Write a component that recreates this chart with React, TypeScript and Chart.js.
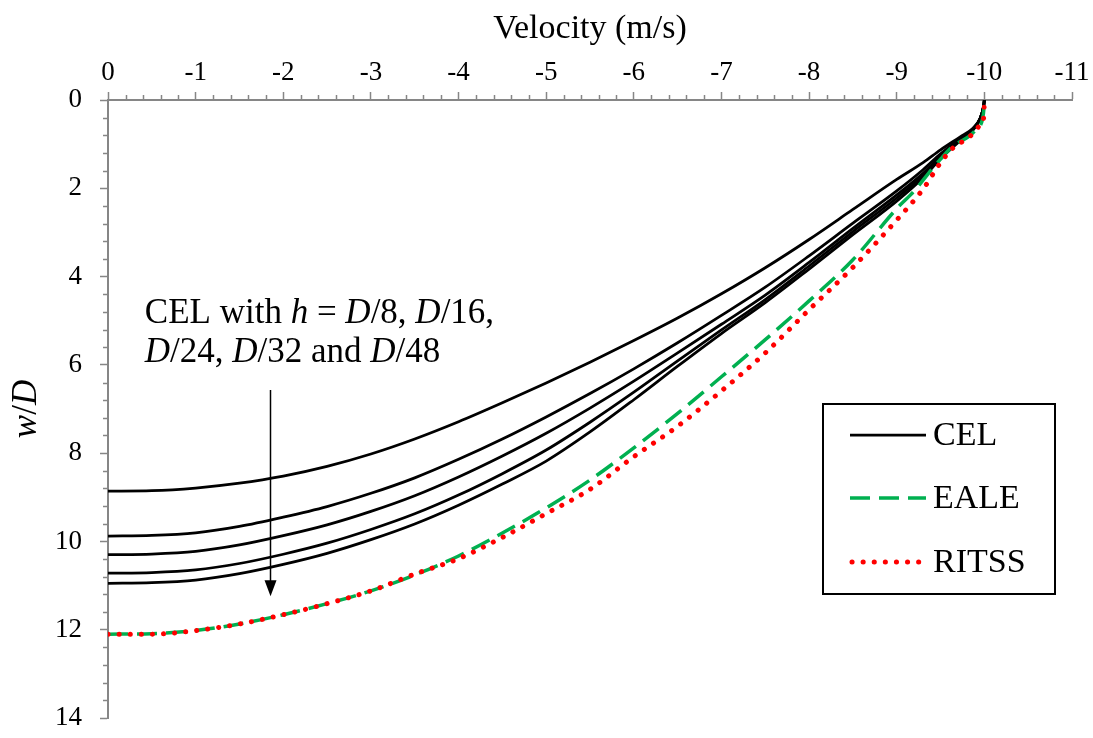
import React, { useEffect, useRef } from 'react';
import { Chart, registerables } from 'chart.js';

Chart.register(...registerables);

// ---------- data (velocity in m/s, depth as w/D) ----------
const CEL_VELOCITY = [0, -0.5, -1, -1.5, -2, -2.5, -3, -3.5, -4, -4.5, -5, -5.5, -6, -6.5, -7, -7.5, -8, -8.5, -9, -9.3, -9.5, -9.72, -9.87, -9.95, -9.99, -10];
const CEL_D8 = [8.86, 8.85, 8.79, 8.68, 8.52, 8.3, 8.02, 7.68, 7.29, 6.86, 6.41, 5.94, 5.45, 4.94, 4.39, 3.8, 3.16, 2.48, 1.8, 1.42, 1.13, 0.84, 0.64, 0.42, 0.16, 0];
const CEL_D16 = [9.88, 9.865, 9.805, 9.66, 9.45, 9.21, 8.91, 8.56, 8.14, 7.68, 7.18, 6.65, 6.09, 5.5, 4.88, 4.24, 3.53, 2.79, 2.06, 1.58, 1.22, 0.88, 0.66, 0.43, 0.16, 0];
const CEL_D24 = [10.3, 10.285, 10.225, 10.08, 9.87, 9.625, 9.32, 8.965, 8.54, 8.065, 7.55, 6.98, 6.37, 5.73, 5.08, 4.42, 3.68, 2.91, 2.15, 1.66, 1.27, 0.9, 0.67, 0.43, 0.16, 0];
const CEL_D32 = [10.72, 10.705, 10.645, 10.5, 10.29, 10.04, 9.73, 9.375, 8.95, 8.465, 7.93, 7.3, 6.62, 5.91, 5.21, 4.52, 3.76, 2.98, 2.22, 1.71, 1.3, 0.91, 0.67, 0.43, 0.16, 0];
const CEL_D48 = [10.95, 10.935, 10.875, 10.73, 10.52, 10.27, 9.96, 9.605, 9.18, 8.7, 8.18, 7.52, 6.79, 6.03, 5.29, 4.59, 3.83, 3.05, 2.29, 1.76, 1.33, 0.93, 0.68, 0.43, 0.16, 0];

const EALE_VELOCITY = [0, -0.5, -1, -1.5, -2, -2.5, -3, -3.5, -4, -4.5, -5, -5.5, -6, -6.5, -7, -7.5, -8, -8.5, -9, -9.2, -9.4, -9.5, -9.6, -9.7, -9.82, -9.9, -9.98, -9.995, -10];
const EALE_DEPTH = [12.1, 12.09, 12.02, 11.87, 11.66, 11.41, 11.12, 10.76, 10.33, 9.81, 9.24, 8.61, 7.88, 7.1, 6.27, 5.43, 4.55, 3.62, 2.46, 2.06, 1.57, 1.34, 1.12, 0.97, 0.83, 0.68, 0.42, 0.19, 0];

const RITSS_VELOCITY = [0, -0.5, -1, -1.5, -2, -2.5, -3, -3.5, -4, -4.5, -5, -5.5, -6, -6.5, -7, -7.5, -8, -8.5, -9, -9.3, -9.5, -9.65, -9.76, -9.86, -9.95, -9.995, -10];
const RITSS_DEPTH = [12.1, 12.1, 12.02, 11.87, 11.66, 11.41, 11.12, 10.74, 10.39, 9.91, 9.37, 8.82, 8.08, 7.39, 6.59, 5.73, 4.75, 3.79, 2.72, 2.02, 1.42, 1.07, 0.93, 0.78, 0.58, 0.36, 0];

const X_MIN = -11;
const X_MAX = 0;
const X_STEP = 1;
const X_MINOR = 0.2;
const Y_MIN = 0;
const Y_MAX = 14;
const Y_STEP = 2;
const Y_MINOR = 0.4;

const X_TITLE = 'Velocity (m/s)';
const LEGEND_LABELS = ['CEL', 'EALE', 'RITSS'];

// annotation (data coordinates)
const ARROW_V = -1.85;
const ARROW_FROM = 6.57;
const ARROW_TO = 11.24;
const NOTE_V = -0.42;
const NOTE_W1 = 5.05;
const NOTE_W2 = 5.94;
const NOTE_LINE1 = [
  { t: 'CEL with ', i: false },
  { t: 'h', i: true },
  { t: ' = ', i: false },
  { t: 'D', i: true },
  { t: '/8, ', i: false },
  { t: 'D', i: true },
  { t: '/16,', i: false },
];
const NOTE_LINE2 = [
  { t: 'D', i: true },
  { t: '/24, ', i: false },
  { t: 'D', i: true },
  { t: '/32 and ', i: false },
  { t: 'D', i: true },
  { t: '/48', i: false },
];
const Y_TITLE = [
  { t: 'w', i: true },
  { t: '/', i: false },
  { t: 'D', i: true },
];

// ---------- styles ----------
const FONT = "'Liberation Serif', 'Times New Roman', serif";
const AXIS_COLOR = '#868686';
const CEL_STYLE = { color: '#000000', width: 2.75, dash: [] as number[], cap: 'butt' as CanvasLineCap };
const EALE_STYLE = { color: '#00B050', width: 3.5, dash: [20, 9], cap: 'butt' as CanvasLineCap };
const RITSS_STYLE = { color: '#FF0000', width: 5, dash: [0.1, 11], cap: 'round' as CanvasLineCap };

function pts(xs: number[], ys: number[]) {
  return xs.map((x, i) => ({ x, y: ys[i] }));
}

function drawRich(ctx: CanvasRenderingContext2D, parts: { t: string; i: boolean }[], x: number, y: number, size: number, align: 'left' | 'center') {
  const fontFor = (it: boolean) => `${it ? 'italic ' : ''}${size}px ${FONT}`;
  let total = 0;
  for (const p of parts) {
    ctx.font = fontFor(p.i);
    total += ctx.measureText(p.t).width;
  }
  let cx = align === 'center' ? x - total / 2 : x;
  ctx.textAlign = 'left';
  for (const p of parts) {
    ctx.font = fontFor(p.i);
    ctx.fillText(p.t, cx, y);
    cx += ctx.measureText(p.t).width;
  }
}

export default function App() {
  const ref = useRef<HTMLCanvasElement>(null);

  useEffect(() => {
    document.body.style.margin = '0';
    const canvas = ref.current;
    if (!canvas) return;

    const overlay = {
      id: 'overlay',
      afterDatasetsDraw(chart: any) {
        const ctx: CanvasRenderingContext2D = chart.ctx;
        const xs = chart.scales.x;
        const ys = chart.scales.y;
        const area = chart.chartArea;
        ctx.save();

        // minor ticks
        ctx.strokeStyle = AXIS_COLOR;
        ctx.lineWidth = 1.5;
        const nx = Math.round((X_MAX - X_MIN) / X_MINOR);
        for (let i = 0; i <= nx; i++) {
          const v = X_MAX - i * X_MINOR;
          if (Math.abs(v / X_STEP - Math.round(v / X_STEP)) < 1e-6) continue;
          const px = Math.round(xs.getPixelForValue(v)) + 0.5;
          ctx.beginPath();
          ctx.moveTo(px, area.top);
          ctx.lineTo(px, area.top - 5);
          ctx.stroke();
        }
        const ny = Math.round((Y_MAX - Y_MIN) / Y_MINOR);
        for (let i = 0; i <= ny; i++) {
          const w = Y_MIN + i * Y_MINOR;
          if (Math.abs(w / Y_STEP - Math.round(w / Y_STEP)) < 1e-6) continue;
          const py = Math.round(ys.getPixelForValue(w)) + 0.5;
          ctx.beginPath();
          ctx.moveTo(area.left, py);
          ctx.lineTo(area.left - 5, py);
          ctx.stroke();
        }

        // y title (mixed italic)
        ctx.fillStyle = '#000';
        ctx.save();
        ctx.translate(27, (area.top + area.bottom) / 2);
        ctx.rotate(-Math.PI / 2);
        ctx.textBaseline = 'middle';
        drawRich(ctx, Y_TITLE, 0, 0, 35, 'center');
        ctx.restore();

        // annotation text
        ctx.fillStyle = '#000';
        ctx.textBaseline = 'alphabetic';
        const nx0 = xs.getPixelForValue(NOTE_V);
        drawRich(ctx, NOTE_LINE1, nx0, ys.getPixelForValue(NOTE_W1), 35, 'left');
        drawRich(ctx, NOTE_LINE2, nx0, ys.getPixelForValue(NOTE_W2), 35, 'left');

        // arrow
        const ax = Math.round(xs.getPixelForValue(ARROW_V)) + 0.5;
        const ay0 = ys.getPixelForValue(ARROW_FROM);
        const ay1 = ys.getPixelForValue(ARROW_TO);
        ctx.strokeStyle = '#000';
        ctx.lineWidth = 1.5;
        ctx.setLineDash([]);
        ctx.beginPath();
        ctx.moveTo(ax, ay0);
        ctx.lineTo(ax, ay1 - 12);
        ctx.stroke();
        ctx.beginPath();
        ctx.moveTo(ax - 6, ay1 - 16);
        ctx.lineTo(ax + 6, ay1 - 16);
        ctx.lineTo(ax, ay1);
        ctx.closePath();
        ctx.fillStyle = '#000';
        ctx.fill();

        // legend
        const bx = 823, by = 404, bw = 232, bh = 190;
        ctx.fillStyle = '#fff';
        ctx.fillRect(bx, by, bw, bh);
        ctx.strokeStyle = '#000';
        ctx.lineWidth = 2;
        ctx.strokeRect(bx, by, bw, bh);
        const styles = [CEL_STYLE, EALE_STYLE, RITSS_STYLE];
        const rows = [435, 498, 562];
        styles.forEach((s, i) => {
          const y = rows[i];
          ctx.save();
          ctx.strokeStyle = s.color;
          ctx.lineWidth = s.width;
          ctx.setLineDash(s.dash);
          ctx.lineCap = s.cap;
          ctx.beginPath();
          if (s.cap === 'round') {
            ctx.moveTo(852, y);
            ctx.lineTo(922, y);
          } else {
            ctx.moveTo(850, y);
            ctx.lineTo(926, y);
          }
          ctx.stroke();
          ctx.restore();
          ctx.fillStyle = '#000';
          ctx.font = `34px ${FONT}`;
          ctx.textAlign = 'left';
          ctx.textBaseline = 'middle';
          ctx.fillText(LEGEND_LABELS[i], 933, y + 1);
        });

        ctx.restore();
      },
    };

    const celSeries = [CEL_D8, CEL_D16, CEL_D24, CEL_D32, CEL_D48];
    const datasets: any[] = celSeries.map((d) => ({
      label: 'CEL',
      data: pts(CEL_VELOCITY, d),
      borderColor: CEL_STYLE.color,
      borderWidth: CEL_STYLE.width,
      pointRadius: 0,
      cubicInterpolationMode: 'monotone',
      fill: false,
      order: 2,
    }));
    datasets.push({
      label: 'EALE',
      data: pts(EALE_VELOCITY, EALE_DEPTH),
      borderColor: EALE_STYLE.color,
      borderWidth: EALE_STYLE.width,
      borderDash: EALE_STYLE.dash,
      pointRadius: 0,
      cubicInterpolationMode: 'monotone',
      fill: false,
      order: 1,
    });
    datasets.push({
      label: 'RITSS',
      data: pts(RITSS_VELOCITY, RITSS_DEPTH),
      borderColor: RITSS_STYLE.color,
      borderWidth: RITSS_STYLE.width,
      borderDash: RITSS_STYLE.dash,
      borderCapStyle: 'round',
      pointRadius: 0,
      cubicInterpolationMode: 'monotone',
      fill: false,
      order: 0,
    });

    const chart = new Chart(canvas, {
      type: 'line',
      data: { datasets },
      options: {
        responsive: false,
        animation: false,
        events: [],
        layout: { padding: { left: 0, right: 21, top: 0, bottom: 20 } },
        plugins: {
          legend: { display: false },
          tooltip: { enabled: false },
        },
        scales: {
          x: {
            type: 'linear',
            position: 'top',
            min: X_MIN,
            max: X_MAX,
            reverse: true,
            ticks: {
              stepSize: X_STEP,
              color: '#000',
              font: { family: FONT, size: 27 },
              padding: 3,
              maxRotation: 0,
              autoSkip: false,
              callback: (v: any) => String(Math.round(Number(v))),
            },
            grid: {
              drawOnChartArea: false,
              drawTicks: true,
              tickLength: 8,
              tickColor: AXIS_COLOR,
              tickWidth: 1.5,
            },
            border: { display: true, color: AXIS_COLOR, width: 2 },
            title: {
              display: true,
              text: X_TITLE,
              color: '#000',
              font: { family: FONT, size: 34 },
              padding: { top: 9, bottom: 0 },
            },
            afterFit: (scale: any) => {
              scale.height = 100;
              scale.paddingLeft = 0;
              scale.paddingRight = 0;
            },
          },
          y: {
            type: 'linear',
            position: 'left',
            min: Y_MIN,
            max: Y_MAX,
            reverse: true,
            ticks: {
              stepSize: Y_STEP,
              color: '#000',
              font: { family: FONT, size: 27 },
              padding: 18,
              autoSkip: false,
              callback: (v: any) => String(Math.round(Number(v))),
            },
            grid: {
              drawOnChartArea: false,
              drawTicks: true,
              tickLength: 8,
              tickColor: AXIS_COLOR,
              tickWidth: 1.5,
            },
            border: { display: true, color: AXIS_COLOR, width: 2 },
            afterFit: (scale: any) => {
              scale.width = 108;
              scale.paddingTop = 0;
              scale.paddingBottom = 0;
            },
          },
        },
      } as any,
      plugins: [overlay],
    });

    return () => chart.destroy();
  }, []);

  return <canvas ref={ref} width={1093} height={738} style={{ display: 'block', width: 1093, height: 738 }} />;
}
